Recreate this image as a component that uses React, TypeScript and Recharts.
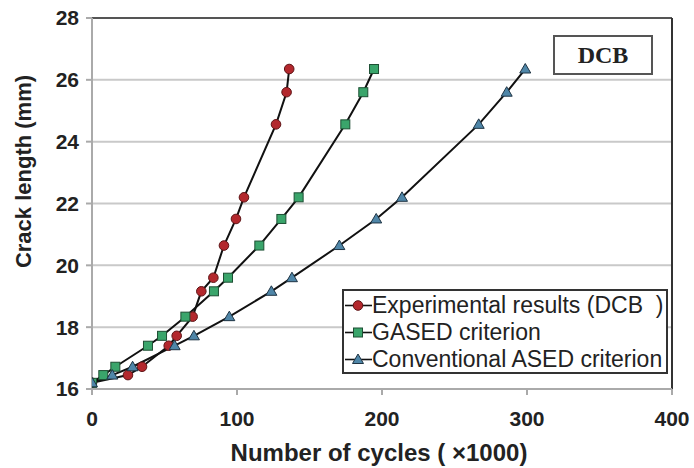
import React from "react";
import {
  LineChart,
  Line,
  XAxis,
  YAxis,
  CartesianGrid,
  ReferenceLine,
  Legend,
} from "recharts";

// crack length (mm) shared by every series
const crackLength = [
  16.2, 16.45, 16.72, 17.4, 17.72, 18.34, 19.16, 19.6, 20.64, 21.5, 22.2,
  24.56, 25.6, 26.35,
];

// number of cycles (x1000) needed to reach each crack length
const experimentalCycles = [
  0, 24.8, 34.5, 52.9, 58.4, 69.4, 75.4, 83.7, 91, 99.3, 104.8, 126.9, 134.2,
  136,
];
const gasedCycles = [
  0, 7.8, 16.1, 38.6, 48.3, 64.4, 84.1, 93.8, 115.4, 130.6, 142.5, 174.7,
  187.1, 194.5,
];
const asedCycles = [
  0, 14, 28, 57, 70.3, 94.7, 123.7, 137.9, 170.6, 196, 213.8, 266.7, 286,
  298.8,
];

const xTicks = [0, 100, 200, 300, 400];
const yTicks = [16, 18, 20, 22, 24, 26, 28];

const seriesNames = [
  "Experimental results (DCB  )",
  "GASED criterion",
  "Conventional ASED criterion",
];

const toPoints = (cycles: number[]) =>
  cycles.map((c, i) => ({ cycles: c, length: crackLength[i] }));

const experimental = toPoints(experimentalCycles);
const gased = toPoints(gasedCycles);
const ased = toPoints(asedCycles);

const SANS = "'Liberation Sans', Arial, sans-serif";

// marker shapes
const Circle = ({ cx, cy }: any) =>
  cx == null ? null : (
    <circle cx={cx} cy={cy} r={4.8} fill="#b3282d" stroke="#5e1416" strokeWidth={1} />
  );
const Square = ({ cx, cy }: any) =>
  cx == null ? null : (
    <rect x={cx - 4.5} y={cy - 4.5} width={9} height={9} fill="#3aa56b" stroke="#1d4f33" strokeWidth={1} />
  );
const Triangle = ({ cx, cy }: any) =>
  cx == null ? null : (
    <polygon
      points={`${cx},${cy - 5.5} ${cx + 5.5},${cy + 4} ${cx - 5.5},${cy + 4}`}
      fill="#4f86a8"
      stroke="#1f3444"
      strokeWidth={1}
    />
  );

const markers = [Circle, Square, Triangle];

const renderLegend = () => (
  <div
    style={{
      border: "2px solid #333",
      background: "#fff",
      boxSizing: "border-box",
      height: 85,
      paddingTop: 1,
    }}
  >
    {seriesNames.map((name, i) => {
      const Marker = markers[i];
      return (
        <div
          key={name}
          style={{ display: "flex", alignItems: "center", height: 27 }}
        >
          <svg width={28} height={27} style={{ flex: "none" }}>
            <line x1={1} y1={13.5} x2={28} y2={13.5} stroke="#111" strokeWidth={1.6} />
            <Marker cx={14} cy={13.5} />
          </svg>
          <span
            style={{
              fontFamily: SANS,
              fontSize: 23,
              color: "#222",
              whiteSpace: "pre",
              lineHeight: "27px",
            }}
          >
            {name}
          </span>
        </div>
      );
    })}
  </div>
);

const XTitle = ({ viewBox }: any) => (
  <text
    x={viewBox.x + viewBox.width / 2 - 3}
    y={viewBox.y + 63}
    textAnchor="middle"
    dominantBaseline="central"
    fontFamily={SANS}
    fontWeight="bold"
    fontSize={24}
    fill="#222"
    style={{ whiteSpace: "pre" }}
  >
    Number of cycles ( ×1000)
  </text>
);

const YTitle = ({ viewBox }: any) => {
  const x = viewBox.x + 23;
  const y = viewBox.y + viewBox.height / 2 - 32;
  return (
    <text
      x={x}
      y={y}
      transform={`rotate(-90, ${x}, ${y})`}
      textAnchor="middle"
      dominantBaseline="central"
      fontFamily={SANS}
      fontWeight="bold"
      fontSize={22}
      fill="#222"
    >
      Crack length (mm)
    </text>
  );
};

const tickStyle = {
  fontFamily: SANS,
  fontWeight: "bold",
  fontSize: 21,
  fill: "#222",
};

export default function App() {
  return (
    <div style={{ position: "absolute", left: 0, top: 0, width: 694, height: 468, background: "#fff" }}>
      <LineChart
        width={694}
        height={468}
        margin={{ top: 18, right: 22, bottom: 0, left: 0 }}
      >
        <CartesianGrid horizontal vertical={false} stroke="#c9c9c9" strokeWidth={2} />
        <XAxis
          dataKey="cycles"
          type="number"
          domain={[0, 400]}
          ticks={xTicks}
          height={79}
          tickSize={6}
          tickMargin={16}
          stroke="#aaa"
          strokeWidth={2}
          tick={tickStyle}
          allowDataOverflow
          label={<XTitle />}
        />
        <YAxis
          dataKey="length"
          type="number"
          domain={[16, 28]}
          ticks={yTicks}
          width={92}
          tickSize={6}
          tickMargin={7}
          stroke="#aaa"
          strokeWidth={2}
          tick={tickStyle}
          label={<YTitle />}
        />
        <ReferenceLine y={28} stroke="#555" strokeWidth={2} />
        <ReferenceLine x={400} stroke="#333" strokeWidth={2} />
        <Line
          data={experimental}
          dataKey="length"
          type="linear"
          stroke="#111"
          strokeWidth={2}
          dot={<Circle />}
          isAnimationActive={false}
        />
        <Line
          data={gased}
          dataKey="length"
          type="linear"
          stroke="#111"
          strokeWidth={2}
          dot={<Square />}
          isAnimationActive={false}
        />
        <Line
          data={ased}
          dataKey="length"
          type="linear"
          stroke="#111"
          strokeWidth={2}
          dot={<Triangle />}
          isAnimationActive={false}
        />
        <Legend
          content={renderLegend}
          verticalAlign="middle"
          align="center"
          wrapperStyle={{ left: 342, top: 289, width: 326, bottom: "auto" }}
        />
      </LineChart>
      <div
        style={{
          position: "absolute",
          left: 553,
          top: 35,
          width: 100,
          height: 40,
          boxSizing: "border-box",
          border: "2px solid #555",
          background: "#fff",
          display: "flex",
          alignItems: "center",
          justifyContent: "center",
          fontFamily: "'Liberation Serif', 'Times New Roman', serif",
          fontWeight: "bold",
          fontSize: 24,
          color: "#222",
        }}
      >
        DCB
      </div>
    </div>
  );
}
